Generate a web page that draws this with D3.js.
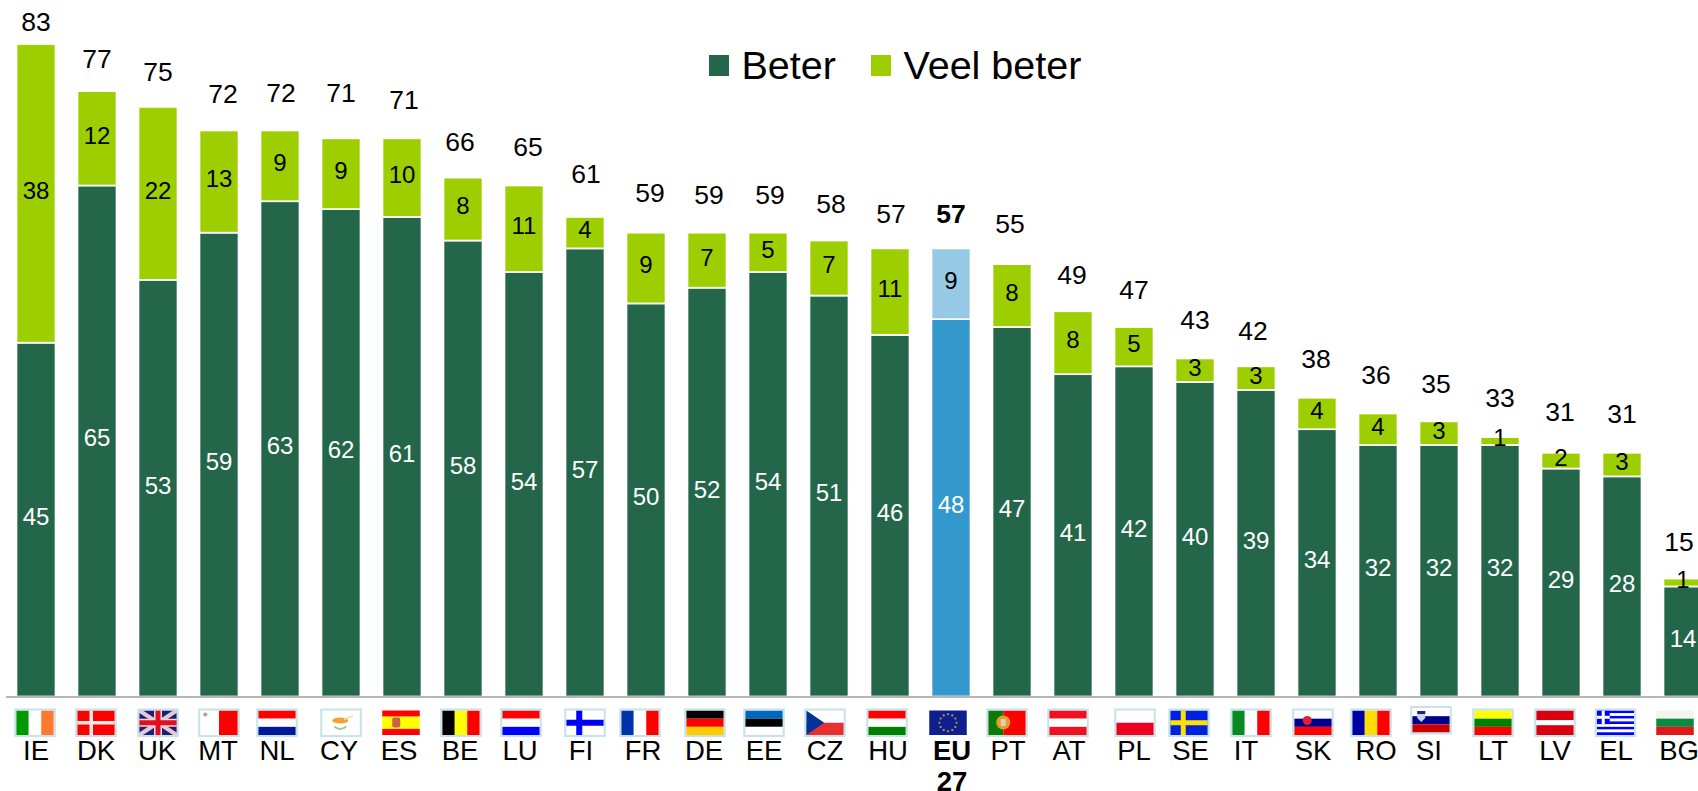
<!DOCTYPE html>
<html>
<head>
<meta charset="utf-8">
<script src="https://cdn.jsdelivr.net/npm/d3@7"></script>
<style>
  html, body { margin: 0; padding: 0; background: #fff; overflow: hidden; }
  text { font-family: "Liberation Sans", Arial, sans-serif; }
</style>
</head>
<body>
<div id="chart"></div>
<script>
// Data
var countries = ["IE","DK","UK","MT","NL","CY","ES","BE","LU","FI","FR","DE","EE","CZ","HU","EU","PT","AT","PL","SE","IT","SK","RO","SI","LT","LV","EL","BG"];
var beter     = [45,65,53,59,63,62,61,58,54,57,50,52,54,51,46,48,47,41,42,40,39,34,32,32,32,29,28,14];
var veelBeter = [38,12,22,13,9,9,10,8,11,4,9,7,5,7,11,9,8,8,5,3,3,4,4,3,1,2,3,1];
var totals    = [83,77,75,72,72,71,71,66,65,61,59,59,59,58,57,57,55,49,47,43,42,38,36,35,33,31,31,15];

// The labels in the original were placed by hand, so they are nudged one by one
var totalGap   = [22,32,35,37,38,46,39,36,39,43,40,38,38,37,35,35,40,37,37,39,36,39,39,38,39,41,39,37];
var totalNudge = [0,0,0,4,1,0,2,-3,4,1,4,2,2,2,1,0,-2,-1,0,0,-3,-1,-2,-3,0,-1,0,-4];
var tickNudge  = [0,-1,-1,-1,-3,-2,-3,-3,-4,-4,-3,-3,-4,-4,-2,1,-4,-4,0,-4.5,-10,-4,-2,-10,-7,-6,-6,-4];
var flagNudge  = [-1,-1,0,0,-3,0,-1,-2,-3,0,-6,-2,-4,-4,-3,-3,-5,-5,1,-6,-5,-4,-7,-8,-7,-6,-6.5,-8];

var width = 1698, height = 791;
var blue = {beter: "#3399cc", veel: "#95c9e6"};
var green = {beter: "#236649", veel: "#9dcf00"};

var svg = d3.select("#chart").append("svg")
  .attr("width", width)
  .attr("height", height)
  .style("display", "block");

// Scales
var x = d3.scaleBand()
  .domain(countries)
  .range([5.5, 1713.5])
  .paddingInner(0.36)
  .paddingOuter(0.18);

var y = d3.scaleLinear()
  .domain([0, 83])
  .range([696.5, 44]);

// Stacked bars
var rows = countries.map(function(c, i){
  return {country: c, i: i, beter: beter[i], veel: veelBeter[i], total: totals[i]};
});
var stack = d3.stack().keys(["beter", "veel"])(rows);

var layers = svg.selectAll("g.layer")
  .data(stack)
  .enter().append("g")
  .attr("class", "layer");

layers.selectAll("rect")
  .data(function(s){ return s.map(function(d){ return {key: s.key, y0: d[0], y1: d[1], row: d.data}; }); })
  .enter().append("rect")
  .attr("x", function(d){ return x(d.row.country); })
  .attr("y", function(d){ return y(d.y1); })
  .attr("width", x.bandwidth())
  .attr("height", function(d){ return y(d.y0) - y(d.y1); })
  .attr("fill", function(d){ return (d.row.country == "EU" ? blue : green)[d.key]; })
  .attr("stroke", "#fff")
  .attr("stroke-width", 1.7);

// Segment labels
layers.selectAll("text")
  .data(function(s){ return s.map(function(d){ return {key: s.key, y0: d[0], y1: d[1], row: d.data}; }); })
  .enter().append("text")
  .attr("x", function(d){ return x(d.row.country) + x.bandwidth() / 2; })
  .attr("y", function(d){ return (y(d.y0) + y(d.y1)) / 2 - 3; })
  .attr("dy", "0.35em")
  .attr("text-anchor", "middle")
  .style("font-size", "24px")
  .attr("fill", function(d){ return d.key == "beter" ? "#fff" : "#000"; })
  .text(function(d){ return d.y1 - d.y0; });

// Totals
svg.selectAll("text.total")
  .data(rows)
  .enter().append("text")
  .attr("class", "total")
  .attr("x", function(d){ return x(d.country) + x.bandwidth() / 2 + totalNudge[d.i]; })
  .attr("y", function(d){ return y(d.total) - totalGap[d.i]; })
  .attr("dy", "0.35em")
  .attr("text-anchor", "middle")
  .style("font-size", "26.5px")
  .style("font-weight", function(d){ return d.country == "EU" ? "bold" : "normal"; })
  .text(function(d){ return d.total; });

// Axis
var axis = svg.append("g")
  .attr("class", "axis x-axis")
  .attr("transform", "translate(0," + y(0) + ")")
  .call(d3.axisBottom(x).tickSize(0).tickPadding(0));

axis.select(".domain")
  .attr("stroke", "#b4b4b4")
  .attr("stroke-width", 2);

axis.selectAll(".tick text")
  .attr("x", function(d, i){ return tickNudge[i]; })
  .attr("y", 63)
  .attr("dy", 0)
  .attr("fill", "#000")
  .style("font-size", "27.5px")
  .style("font-weight", function(d){ return d == "EU" ? "bold" : "normal"; });

svg.append("text")
  .attr("x", x("EU") + x.bandwidth() / 2 + 1)
  .attr("y", 790.5)
  .attr("text-anchor", "middle")
  .style("font-size", "27.5px")
  .style("font-weight", "bold")
  .text("27");

// Flags
var flagW = 37.5, flagH = 24.5;

function stripes(g, dir, colors, weights){
  var total = d3.sum(weights || colors.map(function(){ return 1; }));
  var pos = 0;
  colors.forEach(function(c, i){
    var w = (weights ? weights[i] : 1) / total;
    if (dir == "h") {
      g.append("rect").attr("x", 0).attr("y", pos * flagH).attr("width", flagW).attr("height", w * flagH).attr("fill", c);
    } else {
      g.append("rect").attr("x", pos * flagW).attr("y", 0).attr("width", w * flagW).attr("height", flagH).attr("fill", c);
    }
    pos += w;
  });
}

function cross(g, bg, fg, cx, thick){
  g.append("rect").attr("width", flagW).attr("height", flagH).attr("fill", bg);
  g.append("rect").attr("x", cx - thick / 2).attr("width", thick).attr("height", flagH).attr("fill", fg);
  g.append("rect").attr("y", flagH / 2 - thick / 2).attr("width", flagW).attr("height", thick).attr("fill", fg);
}

var flagDraw = {
  IE: function(g){ stripes(g, "v", ["#009a00", "#fff", "#ff7a30"]); },
  DK: function(g){ cross(g, "#ff0000", "#ffe8e8", 14, 3.5); },
  UK: function(g){
    g.append("rect").attr("width", flagW).attr("height", flagH).attr("fill", "#1c1f78");
    var w = [[0, 0, flagW, flagH], [flagW, 0, 0, flagH]];
    w.forEach(function(l){
      g.append("line").attr("x1", l[0]).attr("y1", l[1]).attr("x2", l[2]).attr("y2", l[3]).attr("stroke", "#e8c8d0").attr("stroke-width", 4);
    });
    g.append("rect").attr("x", flagW / 2 - 4).attr("width", 8).attr("height", flagH).attr("fill", "#f0d8dc");
    g.append("rect").attr("y", flagH / 2 - 4).attr("width", flagW).attr("height", 8).attr("fill", "#f0d8dc");
    g.append("rect").attr("x", flagW / 2 - 2.5).attr("width", 5).attr("height", flagH).attr("fill", "#e01020");
    g.append("rect").attr("y", flagH / 2 - 2.5).attr("width", flagW).attr("height", 5).attr("fill", "#e01020");
  },
  MT: function(g){
    stripes(g, "v", ["#fff", "#ff0000"]);
    g.append("circle").attr("cx", 5).attr("cy", 4).attr("r", 2).attr("fill", "#c89090");
  },
  NL: function(g){ stripes(g, "h", ["#ff0000", "#fff", "#00189a"]); },
  CY: function(g){
    g.append("rect").attr("width", flagW).attr("height", flagH).attr("fill", "#fff");
    g.append("ellipse").attr("cx", 18).attr("cy", 10).attr("rx", 8).attr("ry", 3).attr("fill", "#f5a030");
    g.append("path").attr("d", "M22 9L31 5").attr("stroke", "#fbd8a8").attr("stroke-width", 1.5);
    g.append("path").attr("d", "M12 16Q18 21 24 16").attr("stroke", "#9ccc9c").attr("stroke-width", 2).attr("fill", "none");
  },
  ES: function(g){
    stripes(g, "h", ["#ff0000", "#ffff00", "#ff0000"], [1, 2, 1]);
    g.append("rect").attr("x", 10).attr("y", 7).attr("width", 8).attr("height", 10).attr("rx", 2).attr("fill", "#d06040");
  },
  BE: function(g){ stripes(g, "v", ["#000", "#ffff00", "#ff0000"]); },
  LU: function(g){ stripes(g, "h", ["#ff0000", "#fff", "#0000ff"]); },
  FI: function(g){ cross(g, "#fff", "#0000ff", 13, 6); },
  FR: function(g){ stripes(g, "v", ["#0033aa", "#fff", "#ff0000"]); },
  DE: function(g){ stripes(g, "h", ["#000", "#ff0000", "#ffcc00"]); },
  EE: function(g){ stripes(g, "h", ["#0066bb", "#000", "#fff"]); },
  CZ: function(g){
    stripes(g, "h", ["#fff", "#e83030"]);
    g.append("path").attr("d", "M0 0L18 " + flagH / 2 + "L0 " + flagH + "Z").attr("fill", "#003399");
  },
  HU: function(g){ stripes(g, "h", ["#ff0000", "#fff", "#008000"]); },
  EU: function(g){
    g.append("rect").attr("width", flagW).attr("height", flagH).attr("fill", "#0f1f8f");
    d3.range(12).forEach(function(k){
      var a = k * Math.PI / 6;
      g.append("circle").attr("cx", flagW / 2 + 8.5 * Math.cos(a)).attr("cy", flagH / 2 + 8.5 * Math.sin(a)).attr("r", 1.1).attr("fill", "#b8a830");
    });
  },
  PT: function(g){
    stripes(g, "v", ["#0a7a0a", "#ff0000"], [2, 3]);
    g.append("circle").attr("cx", 15).attr("cy", 12).attr("r", 7).attr("fill", "#e0a020");
    g.append("rect").attr("x", 12.5).attr("y", 8.5).attr("width", 5).attr("height", 7).attr("fill", "#e8c8d0");
  },
  AT: function(g){ stripes(g, "h", ["#f01020", "#fff", "#f01020"]); },
  PL: function(g){ stripes(g, "h", ["#fff", "#ee0020"]); },
  SE: function(g){ cross(g, "#0020e0", "#ffe000", 13, 5); },
  IT: function(g){ stripes(g, "v", ["#088a20", "#fff", "#ff0000"]); },
  SK: function(g){
    stripes(g, "h", ["#fff", "#00008b", "#ff0000"]);
    g.append("circle").attr("cx", 13).attr("cy", 10).attr("r", 4.5).attr("fill", "#e02030");
  },
  RO: function(g){ stripes(g, "v", ["#0000a0", "#ffdd00", "#ff0000"]); },
  SI: function(g){
    stripes(g, "h", ["#fff", "#00008b", "#c80000"]);
    g.append("path").attr("d", "M5 3H13V10L9 14L5 10Z").attr("fill", "#c8d4ee");
    g.append("rect").attr("x", 5).attr("y", 3).attr("width", 8).attr("height", 3).attr("fill", "#20207a");
  },
  LT: function(g){ stripes(g, "h", ["#ffff00", "#008000", "#ff0000"]); },
  LV: function(g){ stripes(g, "h", ["#d80010", "#fff", "#d80010"], [2, 1, 2]); },
  EL: function(g){
    stripes(g, "h", ["#0000ff", "#fff", "#0000ff", "#fff", "#0000ff", "#fff", "#0000ff", "#fff", "#0000ff"]);
    g.append("rect").attr("width", 13).attr("height", 13.6).attr("fill", "#0000ff");
    g.append("rect").attr("x", 5).attr("width", 3).attr("height", 13.6).attr("fill", "#fff");
    g.append("rect").attr("y", 5.3).attr("width", 13).attr("height", 3).attr("fill", "#fff");
  },
  BG: function(g){ stripes(g, "h", ["#f4f4ee", "#0a8a40", "#e01818"]); }
};

// These three flags have no pale frame in the original
var noFrame = ["ES", "EU", "BG"];

var flags = svg.selectAll("g.flag")
  .data(rows)
  .enter().append("g")
  .attr("class", "flag")
  .attr("transform", function(d){
    var cx = x(d.country) + x.bandwidth() / 2 + flagNudge[d.i];
    return "translate(" + (cx - flagW / 2) + "," + (d.country == "SI" ? 708 : 710.5) + ")";
  });

flags.each(function(d){
  var g = d3.select(this);
  flagDraw[d.country](g);
  if (noFrame.indexOf(d.country) < 0) {
    g.append("rect")
      .attr("x", -1).attr("y", -1)
      .attr("width", flagW + 2).attr("height", flagH + 2)
      .attr("fill", "none")
      .attr("stroke", "#c5e3e8")
      .attr("stroke-width", 2);
  }
});

// Legend
var legendItems = [
  {label: "Beter", color: green.beter, sx: 709, tx: 741.5},
  {label: "Veel beter", color: green.veel, sx: 871, tx: 903.5}
];

var legend = svg.selectAll("g.legend")
  .data(legendItems)
  .enter().append("g")
  .attr("class", "legend");

legend.append("rect")
  .attr("x", function(d){ return d.sx; })
  .attr("y", 55)
  .attr("width", 20)
  .attr("height", 21)
  .attr("fill", function(d){ return d.color; });

legend.append("text")
  .attr("x", function(d){ return d.tx; })
  .attr("y", 79)
  .style("font-size", "39.5px")
  .text(function(d){ return d.label; });
</script>
</body>
</html>
